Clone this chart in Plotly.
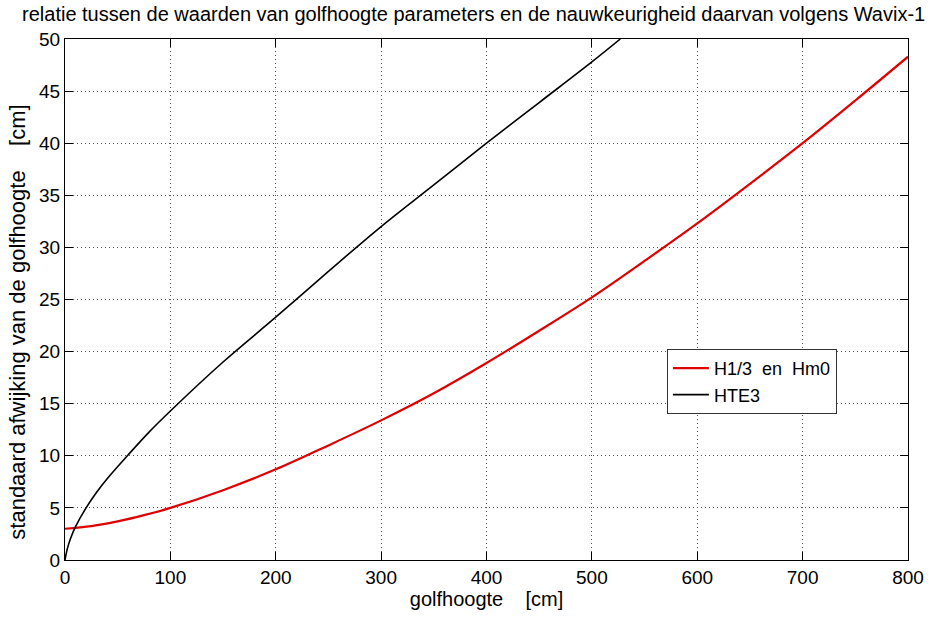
import plotly.graph_objects as go

# golfhoogte [cm] versus standaard afwijking [cm]
h13_x = [0, 25, 50, 75, 100, 150, 200, 250, 300, 350, 400, 450, 500, 550, 600, 650, 700, 750, 800]
h13_y = [3.0, 3.25, 3.7, 4.3, 5.0, 6.7, 8.7, 11.0, 13.4, 16.0, 18.9, 22.0, 25.2, 28.7, 32.3, 36.1, 40.0, 44.1, 48.3]

hte3_x = [0, 2, 5, 10, 20, 30, 40, 60, 80, 100, 150, 200, 250, 300, 350, 400, 450, 500, 527]
hte3_y = [0.0, 1.0, 2.0, 3.2, 5.0, 6.5, 7.8, 10.1, 12.3, 14.3, 19.0, 23.3, 27.7, 32.0, 36.0, 40.0, 43.9, 47.8, 50.0]

x_ticks = [0, 100, 200, 300, 400, 500, 600, 700, 800]
y_ticks = [0, 5, 10, 15, 20, 25, 30, 35, 40, 45, 50]

title_text = "relatie tussen de waarden van golfhoogte parameters en de nauwkeurigheid daarvan volgens Wavix-1"
x_label = "golfhoogte    [cm]"
y_label = "standaard afwijking van de golfhoogte    [cm]"

FONT = "Liberation Sans, Arial, sans-serif"

fig = go.Figure()
fig.add_trace(go.Scatter(x=h13_x, y=h13_y, mode="lines", name="H1/3  en  Hm0",
                         line=dict(color="#e00000", width=2.2, shape="spline", smoothing=1)))
fig.add_trace(go.Scatter(x=hte3_x, y=hte3_y, mode="lines", name="HTE3",
                         line=dict(color="black", width=1.6, shape="spline", smoothing=1)))

axis_common = dict(
    showline=True, linecolor="black", linewidth=1, mirror="ticks",
    ticks="inside", ticklen=8, tickcolor="black", tickwidth=1,
    showgrid=True, gridcolor="#555555", gridwidth=1, griddash="1px,3px",
    zeroline=False, tickfont=dict(family=FONT, size=19, color="black"),
)

fig.update_layout(
    width=936, height=617,
    margin=dict(l=65, r=26, t=39, b=57),
    paper_bgcolor="white", plot_bgcolor="white",
    font=dict(family=FONT, size=19, color="black"),
    title=dict(text=title_text, x=0.506, xanchor="center", y=0.977, yanchor="middle",
               font=dict(family=FONT, size=20, color="black")),
    xaxis=dict(range=[0, 800], tickvals=x_ticks, ticktext=[str(v) for v in x_ticks],
               title=dict(text=x_label, standoff=2, font=dict(family=FONT, size=20)),
               **axis_common),
    yaxis=dict(range=[0, 50], tickvals=y_ticks, ticktext=[str(v) for v in y_ticks],
               **axis_common),
    legend=dict(x=0.714, y=0.405, xanchor="left", yanchor="top",
                bgcolor="white", bordercolor="#333333", borderwidth=1,
                font=dict(family=FONT, size=18, color="black"),
                tracegroupgap=0, itemwidth=36),
    showlegend=True,
)

# vertical axis label, placed as a rotated annotation
fig.add_annotation(text=y_label, textangle=-90, xref="paper", yref="paper",
                   x=-0.056, y=0.457, xanchor="center", yanchor="middle",
                   showarrow=False, font=dict(family=FONT, size=22, color="black"))

fig.write_html("out.html")
